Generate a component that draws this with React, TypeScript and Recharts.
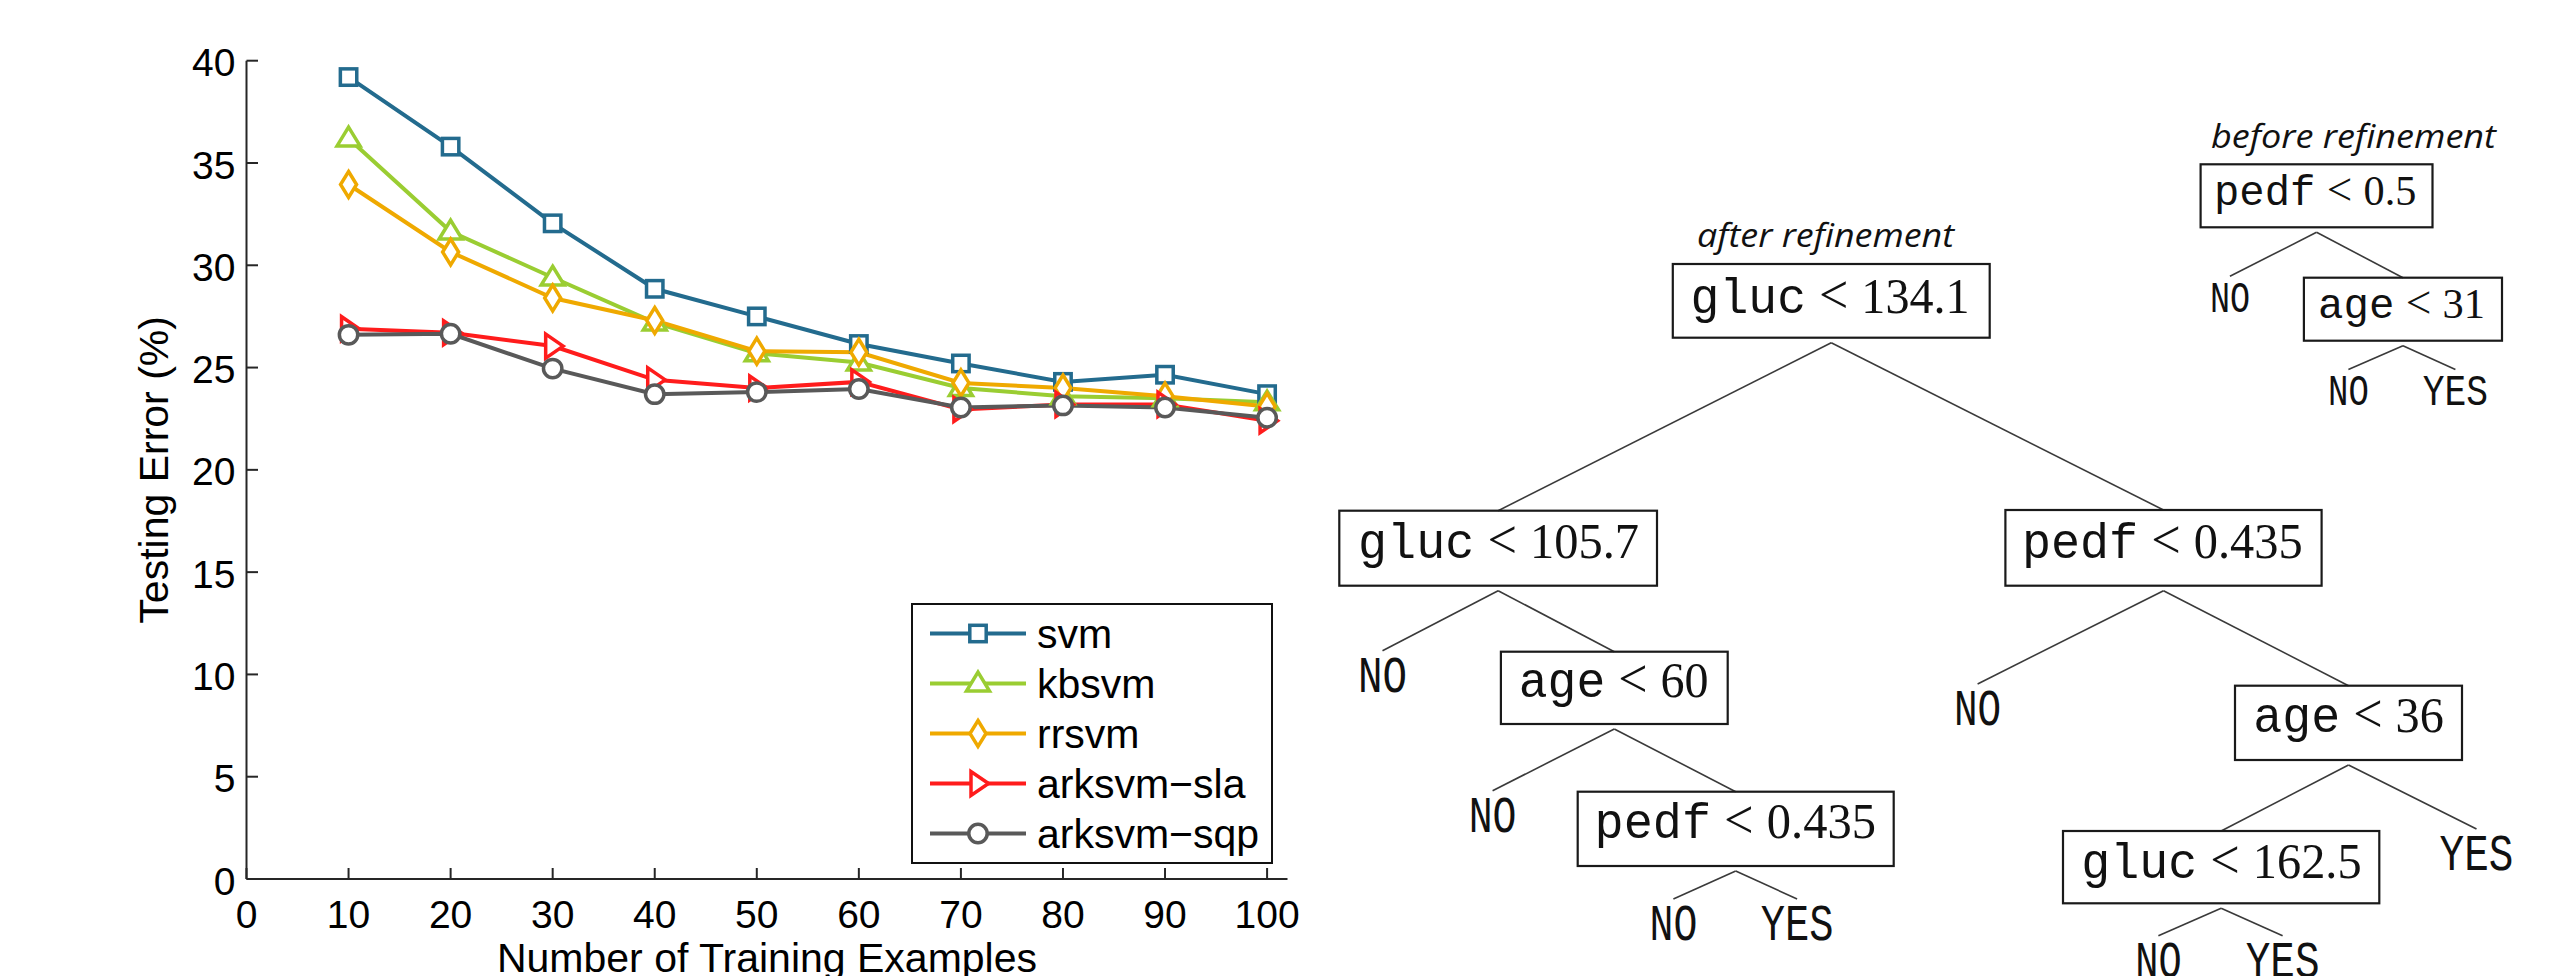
import React from 'react'
import { LineChart, Line, XAxis, YAxis, Legend } from 'recharts'

// testing error (%) vs number of training examples
const trainingSizes = [10, 20, 30, 40, 50, 60, 70, 80, 90, 100]
const svmError = [39.2, 35.8, 32.05, 28.85, 27.5, 26.15, 25.2, 24.3, 24.65, 23.7]
const kbsvmError = [36.2, 31.65, 29.4, 27.2, 25.7, 25.25, 24.0, 23.6, 23.5, 23.3]
const rrsvmError = [33.95, 30.65, 28.4, 27.3, 25.8, 25.75, 24.25, 24.0, 23.6, 23.1]
const arksvmSlaError = [26.9, 26.7, 26.05, 24.4, 24.0, 24.3, 22.95, 23.2, 23.2, 22.4]
const arksvmSqpError = [26.6, 26.65, 24.95, 23.7, 23.8, 23.95, 23.05, 23.15, 23.05, 22.55]

const xTicks = [0, 10, 20, 30, 40, 50, 60, 70, 80, 90, 100]
const yTicks = [0, 5, 10, 15, 20, 25, 30, 35, 40]

const rows = trainingSizes.map((n, i) => ({
  n,
  svm: svmError[i],
  kbsvm: kbsvmError[i],
  rrsvm: rrsvmError[i],
  sla: arksvmSlaError[i],
  sqp: arksvmSqpError[i],
}))

const series = [
  { key: 'svm', name: 'svm', color: '#236b8e', marker: 'square' },
  { key: 'kbsvm', name: 'kbsvm', color: '#9acd32', marker: 'triangle' },
  { key: 'rrsvm', name: 'rrsvm', color: '#efa900', marker: 'diamond' },
  { key: 'sla', name: 'arksvm\u2212sla', color: '#ff1c1c', marker: 'right' },
  { key: 'sqp', name: 'arksvm\u2212sqp', color: '#595959', marker: 'circle' },
]

// decision trees (right hand side)
const treeNodes = [
  { id: 'a0', parent: '', feature: 'gluc', threshold: '134.1' },
  { id: 'a1', parent: 'a0', feature: 'gluc', threshold: '105.7' },
  { id: 'a2', parent: 'a0', feature: 'pedf', threshold: '0.435' },
  { id: 'a3', parent: 'a1', leaf: 'NO' },
  { id: 'a4', parent: 'a1', feature: 'age', threshold: '60' },
  { id: 'a5', parent: 'a4', leaf: 'NO' },
  { id: 'a6', parent: 'a4', feature: 'pedf', threshold: '0.435' },
  { id: 'a7', parent: 'a6', leaf: 'NO' },
  { id: 'a8', parent: 'a6', leaf: 'YES' },
  { id: 'a9', parent: 'a2', leaf: 'NO' },
  { id: 'a10', parent: 'a2', feature: 'age', threshold: '36' },
  { id: 'a11', parent: 'a10', feature: 'gluc', threshold: '162.5' },
  { id: 'a12', parent: 'a10', leaf: 'YES' },
  { id: 'a13', parent: 'a11', leaf: 'NO' },
  { id: 'a14', parent: 'a11', leaf: 'YES' },
  { id: 'b0', parent: '', feature: 'pedf', threshold: '0.5' },
  { id: 'b1', parent: 'b0', leaf: 'NO' },
  { id: 'b2', parent: 'b0', feature: 'age', threshold: '31' },
  { id: 'b3', parent: 'b2', leaf: 'NO' },
  { id: 'b4', parent: 'b2', leaf: 'YES' },
]

const treeTitles = [
  { text: 'after refinement', x: 1697, w: 257, y: 247 },
  { text: 'before refinement', x: 2211, w: 285, y: 148 },
]

// layout: splits [boxL, boxR, boxT, boxB, textL, textR, baseline], leaves [textL, textR, baseline]
const nodeLayout: Record<string, number[]> = {
  a0: [1672.8, 1989.7, 264, 337.7, 1690.6, 1969.6, 312.7],
  a1: [1339.3, 1657, 510.7, 585.7, 1358, 1639, 558.3],
  a2: [2005.4, 2321.6, 510, 585.7, 2022, 2302.6, 558.3],
  a3: [1358, 1407, 691.7],
  a4: [1500.9, 1727.7, 651.7, 724, 1518.8, 1708.5, 696.7],
  a5: [1468.7, 1516.5, 831.7],
  a6: [1577.7, 1893.7, 791.7, 866, 1594.6, 1875.9, 838.3],
  a7: [1649.5, 1697.3, 940],
  a8: [1760.7, 1833.5, 940],
  a9: [1954, 2001.2, 725],
  a10: [2235, 2462, 685.7, 760, 2253.3, 2443.8, 731.7],
  a11: [2063, 2379.3, 831, 903.3, 2081.3, 2361.6, 878],
  a12: [2439.6, 2513.4, 870],
  a13: [2135.2, 2181.6, 976.7],
  a14: [2245.7, 2319.5, 976.7],
  b0: [2200.6, 2432.5, 164.3, 227.3, 2214, 2416.4, 205],
  b1: [2209.9, 2250, 311.7],
  b2: [2303.9, 2502, 277.7, 340.7, 2318, 2485, 318.3],
  b3: [2328, 2368.8, 405],
  b4: [2422.8, 2488, 405],
}

const SANS = '"Liberation Sans", Arial, Helvetica, sans-serif'
const MONO = '"Liberation Mono", "DejaVu Sans Mono", monospace'
const SERIF = '"Liberation Serif", "DejaVu Serif", serif'
const AXIS = '#262626'

function Marker({ shape, cx, cy, color }: any) {
  const common = { fill: '#fff', stroke: color, strokeWidth: 3.5 }
  if (cx == null || cy == null) return null
  switch (shape) {
    case 'square':
      return <rect x={cx - 8.2} y={cy - 8.2} width={16.4} height={16.4} {...common} />
    case 'triangle':
      return <polygon points={`${cx},${cy - 11.3} ${cx + 11.5},${cy + 7.5} ${cx - 11.5},${cy + 7.5}`} {...common} />
    case 'diamond':
      return <polygon points={`${cx},${cy - 13} ${cx + 8},${cy} ${cx},${cy + 13} ${cx - 8},${cy}`} {...common} />
    case 'right':
      return <polygon points={`${cx + 10.5},${cy} ${cx - 7},${cy - 12} ${cx - 7},${cy + 12}`} {...common} />
    default:
      return <circle cx={cx} cy={cy} r={9.2} {...common} />
  }
}

const XTick = ({ x, y, payload }: any) => (
  <g>
    <line x1={x} x2={x} y1={y} y2={y - 11} stroke={AXIS} strokeWidth={2} />
    <text x={x} y={y + 49} textAnchor="middle" fontSize={39} fontFamily={SANS} fill="#000">
      {payload.value}
    </text>
  </g>
)

const YTick = ({ x, y, payload }: any) => (
  <g>
    <line x1={x} x2={x + 11.5} y1={y} y2={y} stroke={AXIS} strokeWidth={2} />
    <text x={x - 11} y={y} dy="0.4em" textAnchor="end" fontSize={39} fontFamily={SANS} fill="#000">
      {payload.value}
    </text>
  </g>
)

// legend keeps the plotting order (svm first), not the alphabetical one
const LegendBox = ({ payload }: any) => {
  if (!payload) return null
  const shown = series.filter((s) => payload.some((p: any) => p.dataKey === s.key))
  return (
    <svg width={362} height={262} style={{ display: 'block' }}>
      <rect x={1} y={1} width={360} height={259} fill="#fff" stroke="#111" strokeWidth={2} />
      {shown.map((s, i) => {
        const cy = 30.5 + i * 50
        return (
          <g key={s.key}>
            <line x1={19} x2={115} y1={cy} y2={cy} stroke={s.color} strokeWidth={4} />
            <Marker shape={s.marker} cx={67} cy={cy} color={s.color} />
            <text x={126} y={cy + 14.5} fontSize={41} fontFamily={SANS} fill="#000">
              {s.name}
            </text>
          </g>
        )
      })}
    </svg>
  )
}

const renderXLabel = (props: any) => {
  const vb = props.viewBox
  return (
    <text x={vb.x + vb.width / 2} y={vb.y + 93} textAnchor="middle" fontSize={41} fontFamily={SANS} fill="#000">
      Number of Training Examples
    </text>
  )
}

const renderYLabel = (props: any) => {
  const vb = props.viewBox
  const x = vb.x + vb.width - 78.5
  const y = vb.y + vb.height / 2
  return (
    <text x={x} y={y} transform={`rotate(-90 ${x} ${y})`} textAnchor="middle" fontSize={41} fontFamily={SANS} fill="#000">
      Testing Error (%)
    </text>
  )
}

function Trees() {
  const isSmall = (id: string) => id.startsWith('b')
  const anchorTop = (n: any) => {
    const l = nodeLayout[n.id]
    if (n.leaf) {
      const cap = isSmall(n.id) ? 25.5 : 30
      return [(l[0] + l[1]) / 2, l[2] - cap - (isSmall(n.id) ? 10 : 11)]
    }
    return [(l[0] + l[1]) / 2, l[2]]
  }
  return (
    <svg width={2561} height={976} style={{ position: 'absolute', left: 0, top: 0 }}>
      {treeTitles.map((t) => (
        <text key={t.text} x={t.x} y={t.y} textLength={t.w} lengthAdjust="spacingAndGlyphs"
          fontFamily='"Open Sans", sans-serif' fontStyle="italic" fontSize={33} fill="#111">
          {t.text}
        </text>
      ))}
      {treeNodes.filter((n) => n.parent).map((n) => {
        const p = nodeLayout[n.parent]
        const [x2, y2] = anchorTop(n)
        return (
          <line key={'e' + n.id} x1={(p[0] + p[1]) / 2} y1={p[3] + 5} x2={x2} y2={y2}
            stroke="#3a3a3a" strokeWidth={1.6} />
        )
      })}
      {treeNodes.map((n: any) => {
        const l = nodeLayout[n.id]
        const small = isSmall(n.id)
        if (n.leaf) {
          return (
            <text key={n.id} x={l[0]} y={l[2]} textLength={l[1] - l[0]} lengthAdjust="spacingAndGlyphs"
              fontFamily={MONO} fontSize={small ? 44 : 52} fill="#111">
              {n.leaf}
            </text>
          )
        }
        return (
          <g key={n.id}>
            <rect x={l[0]} y={l[2]} width={l[1] - l[0]} height={l[3] - l[2]} fill="none" stroke="#1a1a1a" strokeWidth={2.2} />
            <text x={l[4]} y={l[6]} textLength={l[5] - l[4]} lengthAdjust="spacingAndGlyphs"
              fontSize={small ? 43 : 50} fill="#111" style={{ whiteSpace: 'pre' }}>
              <tspan fontFamily={MONO}>{n.feature}</tspan>
              <tspan fontFamily={SERIF} fontSize={small ? 46 : 54}>{' < '}</tspan>
              <tspan fontFamily={SERIF}>{n.threshold}</tspan>
            </text>
          </g>
        )
      })}
    </svg>
  )
}

export default function App() {
  return (
    <div style={{ position: 'absolute', left: 0, top: 0, width: 2561, height: 976, background: '#fff', overflow: 'hidden' }}>
      <div style={{ position: 'absolute', left: 0, top: 0 }}>
        <LineChart width={1400} height={976} data={rows} margin={{ top: 60.7, right: 112.5, bottom: 37, left: 186.5 }}>
          <XAxis
            type="number"
            dataKey="n"
            domain={[0, 102]}
            ticks={xTicks}
            interval={0}
            height={60}
            tickSize={0}
            tickMargin={0}
            tickLine={false}
            tick={<XTick />}
            axisLine={{ stroke: AXIS, strokeWidth: 2 }}
            label={{ content: renderXLabel }}
          />
          <YAxis
            type="number"
            domain={[0, 40]}
            ticks={yTicks}
            interval={0}
            width={60}
            tickSize={0}
            tickMargin={0}
            tickLine={false}
            tick={<YTick />}
            axisLine={{ stroke: AXIS, strokeWidth: 2 }}
            label={{ content: renderYLabel }}
          />
          <Legend
            layout="vertical"
            align="center"
            verticalAlign="middle"
            content={<LegendBox />}
            wrapperStyle={{ position: 'absolute', left: 911, top: 603, width: 362, height: 262 }}
          />
          {series.map((s) => (
            <Line
              key={s.key}
              type="linear"
              dataKey={s.key}
              name={s.name}
              stroke={s.color}
              strokeWidth={4}
              isAnimationActive={false}
              activeDot={false}
              dot={(p: any) => <Marker key={`${s.key}-${p.index}`} shape={s.marker} cx={p.cx} cy={p.cy} color={s.color} />}
            />
          ))}
        </LineChart>
      </div>
      <Trees />
    </div>
  )
}
